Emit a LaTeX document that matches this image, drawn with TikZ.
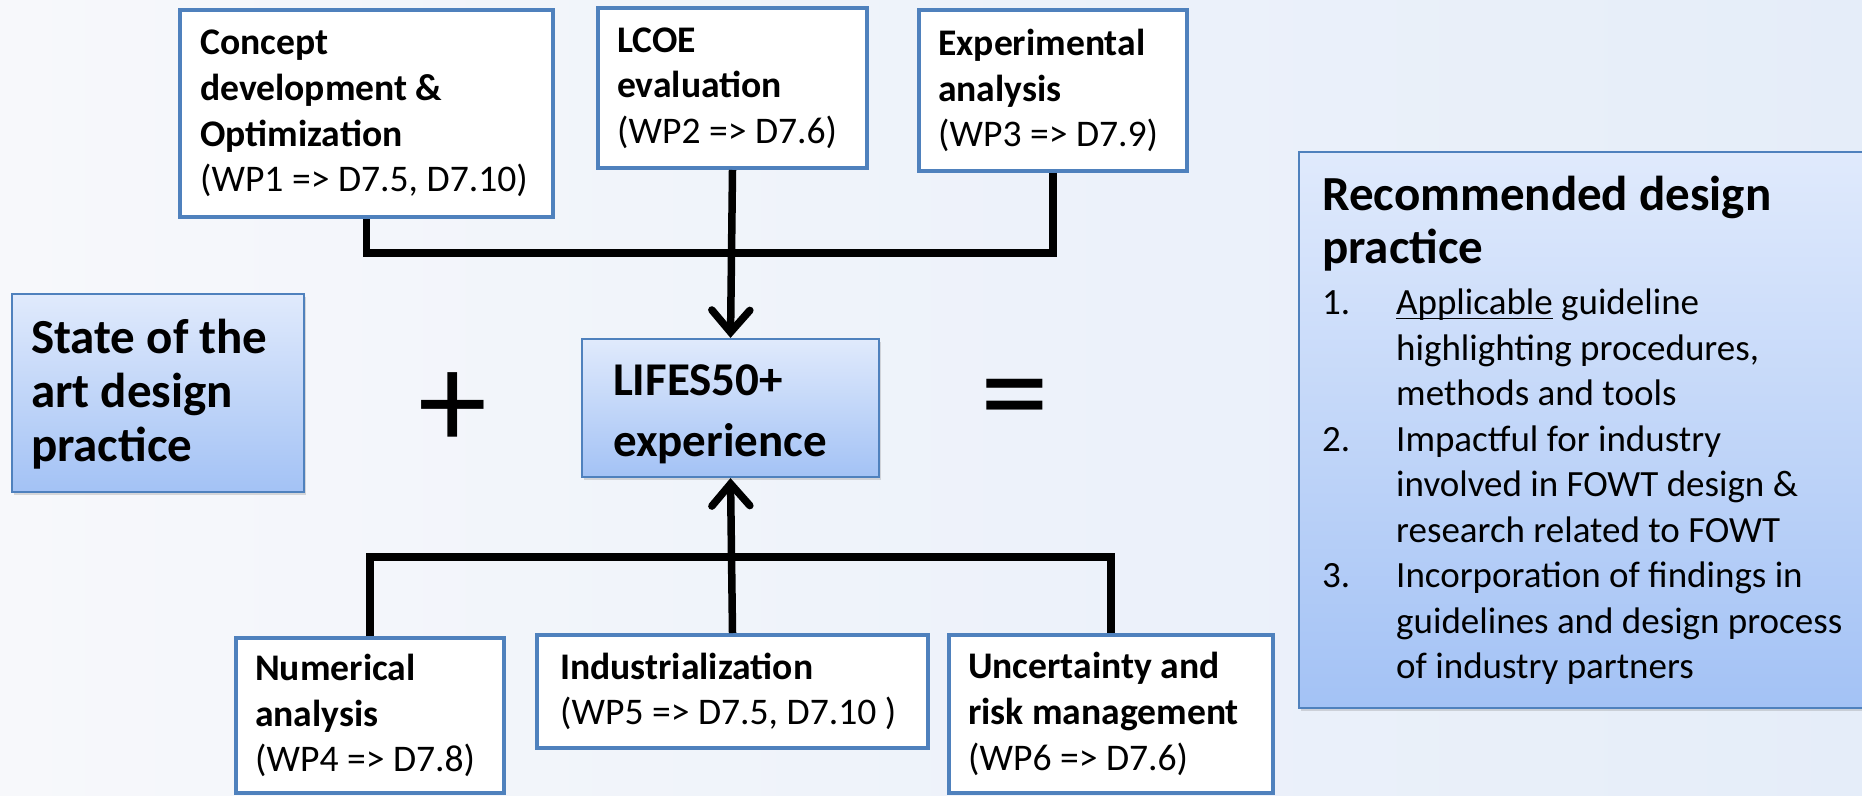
\documentclass[tikz,border=0pt]{standalone}
\usepackage{fontspec}
\setmainfont{Carlito}
\usetikzlibrary{arrows.meta,shadows}

\definecolor{bgleft}{RGB}{247,248,251}
\definecolor{bgright}{RGB}{229,237,249}
\definecolor{edgeblue}{RGB}{79,129,189}
\definecolor{filltop}{RGB}{224,234,252}
\definecolor{fillbot}{RGB}{163,194,245}

% word underlined close to the baseline
\newcommand\ulword[1]{\setbox0\hbox{#1}\rlap{\rule[-4.5pt]{\wd0}{1.8pt}}\box0\relax}

\begin{document}
\begin{tikzpicture}[x=1pt,y=-1pt,
  wpbox/.style={draw=edgeblue, line width=4pt, fill=white, inner sep=0pt},
  gradbox/.style={draw=edgeblue, line width=2.2pt, top color=filltop, bottom color=fillbot,
    inner sep=0pt, drop shadow={shadow xshift=2pt, shadow yshift=-3pt, opacity=0.28}},
  wptext/.style={anchor=west, align=left, inner sep=0pt, font=\fontsize{37.6}{45.6}\selectfont},
  bigtext/.style={anchor=west, align=left, inner sep=0pt, font=\bfseries\fontsize{49}{54}\selectfont},
  opsign/.style={inner sep=0pt, font=\fontsize{138}{138}\selectfont},
  link/.style={line width=7.5pt, draw=black},
  feed/.style={link, -{Straight Barb[length=22pt, width=38pt, line cap=round]}}
]
\useasboundingbox (0,0) rectangle (1862,795);
\fill[left color=bgleft, right color=bgright] (0,0) rectangle (1862,795);

% upper work packages
\node[wpbox, minimum width=373, minimum height=207] (c1) at (366.5,113.5) {};
\node[wptext] (c1t) at ([xshift=22pt]c1.west)
  {\textbf{Concept}\\\textbf{development \&}\\\textbf{Optimization}\\(WP1 => D7.5, D7.10)};
\node[wpbox, minimum width=269, minimum height=160] (c2) at (732.5,88) {};
\node[wptext] (c2t) at ([xshift=21pt]c2.west)
  {\textbf{LCOE}\\\textbf{evaluation}\\(WP2 => D7.6)};
\node[wpbox, minimum width=268, minimum height=161] (c3) at (1053,90.5) {};
\node[wptext] (c3t) at ([xshift=21pt]c3.west)
  {\textbf{Experimental}\\\textbf{analysis}\\(WP3 => D7.9)};

% lower work packages
\node[wpbox, minimum width=268, minimum height=155] (b1) at (370,715.5) {};
\node[wptext] (b1t) at ([xshift=21pt]b1.west)
  {\textbf{Numerical}\\\textbf{analysis}\\(WP4 => D7.8)};
\node[wpbox, minimum width=391, minimum height=113] (b2) at (732.5,691.5) {};
\node[wptext] (b2t) at ([xshift=25pt]b2.west)
  {\textbf{Industrialization}\\(WP5 => D7.5, D7.10 )};
\node[wpbox, minimum width=324, minimum height=158] (b3) at (1111,714) {};
\node[wptext] (b3t) at ([xshift=21pt]b3.west)
  {\textbf{Uncertainty and}\\\textbf{risk management}\\(WP6 => D7.6)};

% central blocks
\node[gradbox, minimum width=292, minimum height=198] (sota) at (158,393) {};
\node[bigtext] (sotat) at ([xshift=20pt, yshift=-1pt]sota.west)
  {State of the\\art design\\practice};
\node[gradbox, minimum width=297, minimum height=138] (mid) at (730.5,408) {};
\node[bigtext, font=\bfseries\fontsize{47}{61}\selectfont] (midt) at ([xshift=32pt, yshift=-6pt]mid.west)
  {LIFES50+\\experience};

\node[opsign] (plus) at (453,411) {+};
\node[opsign] (equal) at (1015,409) {=};

% result block
\node[gradbox, minimum width=620, minimum height=556] (rec) at (1609,430) {};
\node[anchor=north west, align=left, inner sep=0pt, font=\bfseries\fontsize{49}{53}\selectfont]
  (rect) at (1322,176) {Recommended design\\practice};
\node[anchor=north west, align=left, inner sep=0pt, font=\fontsize{37}{45.5}\selectfont]
  (recl) at (1322,289) {%
  \makebox[74pt][l]{1.}\ulword{Applicable} guideline\\
  \hspace*{74pt}highlighting procedures,\\
  \hspace*{74pt}methods and tools\\
  \makebox[74pt][l]{2.}Impactful for industry\\
  \hspace*{74pt}involved in FOWT design \&\\
  \hspace*{74pt}research related to FOWT\\
  \makebox[74pt][l]{3.}Incorporation of findings in\\
  \hspace*{74pt}guidelines and design process\\
  \hspace*{74pt}of industry partners};

% connectors
\coordinate (tj) at (732,253);
\coordinate (bj) at (732,557);
\draw[link] (c1.south) |- (tj) -| (c3.south);
\draw[feed] (c2.south) -- (mid.north);
\draw[link] (b1.north) |- (bj) -| (b3.north);
\draw[feed] (b2.north) -- (mid.south);
\end{tikzpicture}
\end{document}
